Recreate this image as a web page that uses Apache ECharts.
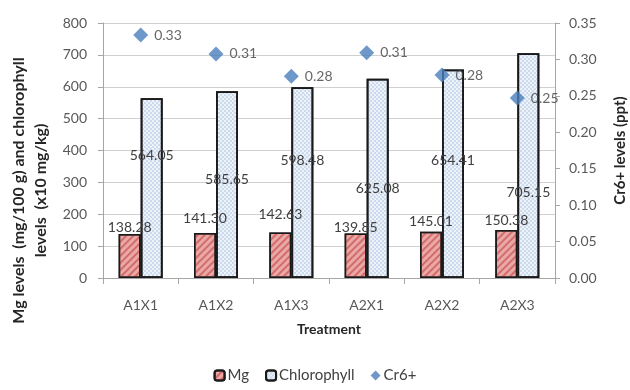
<!DOCTYPE html>
<html><head><meta charset="utf-8">
<script src="https://cdn.jsdelivr.net/npm/echarts@6/dist/echarts.min.js"></script>
<style>html,body{margin:0;padding:0;background:#fff}#c{width:630px;height:390px}</style>
</head><body><div id="c"></div>
<script>
const categories = ['A1X1','A1X2','A1X3','A2X1','A2X2','A2X3'];
const mgValues = [138.28, 141.30, 142.63, 139.85, 145.01, 150.38];
const chlValues = [564.05, 585.65, 598.48, 625.08, 654.41, 705.15];
const crValues = [0.3335, 0.3075, 0.277, 0.309, 0.2786, 0.247];
const leftTicks = [0,100,200,300,400,500,600,700,800];
const rightTicks = [0,0.05,0.10,0.15,0.20,0.25,0.30,0.35];

// label layout (pixels), kept apart from data
const mgLabelDy = [6,14,18,6,10,10];
const chlLabelDy = [57,88,73,110,91,139];

const FONT = 'Lato';
const chart = echarts.init(document.getElementById('c'));
chart.setOption({
  animation:false,
  textStyle:{fontFamily:FONT},
  grid:{left:103,right:75,top:23,bottom:112,containLabel:false,outerBoundsMode:'none'},
  legend:{
    top:363, left:'center', itemWidth:10, itemHeight:10, itemGap:16,
    textStyle:{fontFamily:FONT,fontSize:15,color:'#404040',padding:[0,0,0,-2]},
    data:[{name:'Mg'},{name:'Chlorophyll'},{name:'Cr6+',icon:'diamond'}]
  },
  xAxis:{
    type:'category', data:categories,
    name:'Treatment', nameLocation:'middle', nameGap:44,
    nameTextStyle:{fontFamily:FONT,fontWeight:'bold',fontSize:14,color:'#262626'},
    axisLine:{lineStyle:{color:'#a6a6a6'}},
    axisTick:{show:true,length:6,lineStyle:{color:'#a6a6a6'}},
    axisLabel:{fontFamily:FONT,fontSize:14,color:'#595959',margin:20}
  },
  yAxis:[{
    type:'value', min:0, max:800, interval:100,
    name:'Mg levels  (mg/100 g) and chlorophyll\nlevels  (x10 mg/kg)',
    nameLocation:'middle', nameGap:48, nameRotate:90,
    nameTextStyle:{fontFamily:FONT,fontWeight:'bold',fontSize:16,color:'#262626',lineHeight:22,padding:[0,80,0,0]},
    axisLine:{show:true,lineStyle:{color:'#a6a6a6'}},
    axisTick:{show:true,length:5,lineStyle:{color:'#a6a6a6'}},
    axisLabel:{fontFamily:FONT,fontSize:14,color:'#595959',margin:16},
    splitLine:{lineStyle:{color:'#d0d0d0'}}
  },{
    type:'value', min:0, max:0.35, interval:0.05,
    name:'Cr6+ levels (ppt)', nameLocation:'middle', nameGap:58, nameRotate:90,
    nameTextStyle:{fontFamily:FONT,fontWeight:'bold',fontSize:15,color:'#262626'},
    axisLine:{show:true,lineStyle:{color:'#a6a6a6'}},
    axisTick:{show:true,length:5,lineStyle:{color:'#a6a6a6'}},
    axisLabel:{fontFamily:FONT,fontSize:14,color:'#595959',margin:14,formatter:v=>v.toFixed(2)},
    splitLine:{show:false}
  }],
  series:[{
    name:'Mg', type:'bar', barWidth:22, barGap:'0%',
    itemStyle:{color:'#eaa8a6',borderColor:'#1a1a1a',borderWidth:1.5,
      decal:{symbol:'rect',symbolSize:1,color:'rgba(190,60,60,0.55)',dashArrayX:[1,0],dashArrayY:[1.5,2.5],rotation:-Math.PI/4}},
    data: mgValues.map((v,i)=>({value:v,label:{show:true,position:['50%',-mgLabelDy[i]],align:'center',verticalAlign:'middle'}})),
    label:{show:true,formatter:p=>p.value.toFixed(2),fontFamily:FONT,fontSize:14,color:'#404040'}
  },{
    name:'Chlorophyll', type:'bar', barWidth:22,
    itemStyle:{color:'#eef3fa',borderColor:'#1a1a1a',borderWidth:1.8,
      decal:{symbol:'circle',symbolSize:0.7,color:'#8eaed6',dashArrayX:[[2,2],[0,2,2,0]],dashArrayY:[2,0]}},
    data: chlValues.map((v,i)=>({value:v,label:{show:true,position:['50%',chlLabelDy[i]],align:'center',verticalAlign:'middle'}})),
    label:{show:true,formatter:p=>p.value.toFixed(2),fontFamily:FONT,fontSize:14,color:'#404040'}
  },{
    name:'Cr6+', type:'scatter', yAxisIndex:1, symbol:'diamond', symbolSize:15,
    itemStyle:{color:'#4a7ebb'},
    data: crValues,
    label:{show:true,position:'right',distance:6,formatter:p=>p.value.toFixed(2),fontFamily:FONT,fontSize:14,color:'#404040'}
  }]
});
</script></body></html>
